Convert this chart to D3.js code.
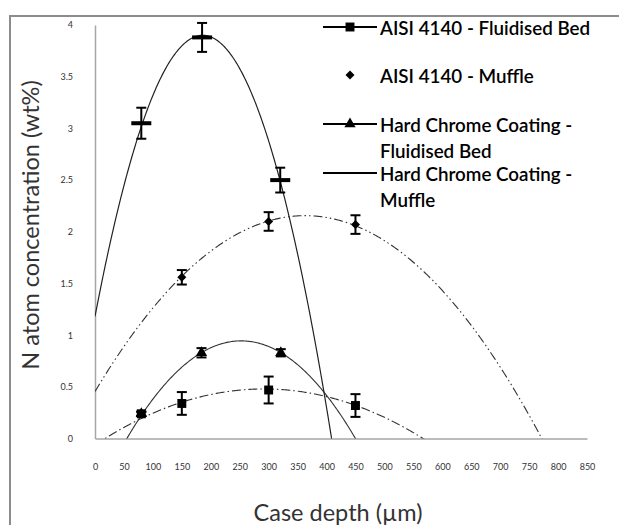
<!DOCTYPE html>
<html><head><meta charset="utf-8">
<script src="https://cdn.jsdelivr.net/npm/d3@7"></script>
<style>body{margin:0;background:#fff}svg{display:block}</style>
</head><body>
<svg id="c" width="619" height="525"></svg>
<script>
// ---- data ----
const xTicks = [0,50,100,150,200,250,300,350,400,450,500,550,600,650,700,750,800,850];
const yTicks = [0,0.5,1,1.5,2,2.5,3,3.5,4];
const seriesNames = ["AISI 4140 - Fluidised Bed","AISI 4140 - Muffle","Hard Chrome Coating - Fluidised Bed","Hard Chrome Coating - Muffle"];
// AISI 4140 - Fluidised Bed (squares)
const aisiFbX = [80,150,300,450];
const aisiFbY = [0.24,0.34,0.47,0.32];
const aisiFbErr = [0.02,0.11,0.13,0.11];
// AISI 4140 - Muffle (diamonds)
const aisiMuX = [150,300,450];
const aisiMuY = [1.56,2.10,2.07];
const aisiMuErr = [0.07,0.09,0.09];
// Hard Chrome Coating - Fluidised Bed (triangles)
const hcFbX = [80,184,321];
const hcFbY = [0.24,0.83,0.83];
const hcFbErr = [0.02,0.045,0.035];
// Hard Chrome Coating - Muffle (bars)
const hcMuX = [80,185,320];
const hcMuY = [3.05,3.88,2.50];
const hcMuErr = [0.15,0.14,0.12];
// polynomial trendline coefficients [c0, c1, c2] (order-2 fits)
const aisiFbTrend = [-0.0612, 0.003707, -6.347e-6];
const aisiMuTrend = [0.455, 0.009369, -1.29e-5];
const hcFbTrend = [-0.5996, 0.012235, -2.4227e-5];
const hcMuTrend = [1.181, 0.02924, -7.86e-5];

// ---- drawing ----
const svg = d3.select("#c");
const font = "Lato, 'Open Sans', sans-serif";
const x = d3.scaleLinear().domain([0,850]).range([95,587]);
const y = d3.scaleLinear().domain([0,4]).range([438.6,25]);

// outer border
svg.append("path").attr("d","M10,530 L10,16 L625,16").attr("fill","none").attr("stroke","#8c8c8c").attr("stroke-width",2);

svg.append("clipPath").attr("id","plot").append("rect")
  .attr("x",x(0)).attr("y",y(4)).attr("width",x(850)-x(0)).attr("height",y(0)-y(4));

// axes
const xa = svg.append("g").attr("transform",`translate(0,${y(0)})`)
  .call(d3.axisBottom(x).tickValues(xTicks).tickSize(0).tickPadding(25).tickFormat(d3.format("d")));
const ya = svg.append("g").attr("transform",`translate(${x(0)},0)`)
  .call(d3.axisLeft(y).tickValues(yTicks).tickSize(0).tickPadding(22).tickFormat(d=>String(d)));
[xa,ya].forEach(g=>{
  g.select(".domain").attr("stroke","#a6a6a6").attr("stroke-width",1.5);
  g.selectAll("text").attr("font-family",font).attr("font-size",9).attr("fill","#333");
});

// trendlines
const samp = d3.range(0, 851, 2);
const poly = c => v => c[0] + c[1]*v + c[2]*v*v;
const lineGen = f => d3.line().x(d=>x(d)).y(d=>y(f(d)))(samp);
const trends = [
  {c:aisiFbTrend, dash:"9,3,1.5,3", stroke:"#333", w:1.1},
  {c:aisiMuTrend, dash:"9,3,1.5,3,1.5,3", stroke:"#333", w:1.1},
  {c:hcFbTrend, dash:null, stroke:"#333", w:1.1},
  {c:hcMuTrend, dash:null, stroke:"#222", w:1.2}
];
const tg = svg.append("g").attr("clip-path","url(#plot)");
trends.forEach(t=>{
  tg.append("path").attr("d",lineGen(poly(t.c))).attr("fill","none")
    .attr("stroke",t.stroke).attr("stroke-width",t.w).attr("stroke-dasharray",t.dash);
});

// error bars
function errBars(xs, ys, es){
  const g = svg.append("g").attr("stroke","#000").attr("stroke-width",2).attr("fill","none");
  xs.forEach((xv,i)=>{
    if(!es[i]) return;
    const cx = x(xv), y1 = y(ys[i]+es[i]), y2 = y(ys[i]-es[i]);
    g.append("line").attr("x1",cx).attr("x2",cx).attr("y1",y1).attr("y2",y2);
    g.append("line").attr("x1",cx-5).attr("x2",cx+5).attr("y1",y1).attr("y2",y1);
    g.append("line").attr("x1",cx-5).attr("x2",cx+5).attr("y1",y2).attr("y2",y2);
  });
}
errBars(aisiFbX,aisiFbY,aisiFbErr);
errBars(aisiMuX,aisiMuY,aisiMuErr);
errBars(hcFbX,hcFbY,hcFbErr);
errBars(hcMuX,hcMuY,hcMuErr);

// markers
const sq = d3.symbol().type(d3.symbolSquare).size(80);
const dia = "M0,-4.5L4.5,0L0,4.5L-4.5,0Z";
const tri = d3.symbol().type(d3.symbolTriangle).size(55);
svg.append("g").selectAll("path").data(aisiFbX).join("path")
  .attr("d",sq).attr("transform",(d,i)=>`translate(${x(d)},${y(aisiFbY[i])})`).attr("fill","#000");
svg.append("g").selectAll("path").data(aisiMuX).join("path")
  .attr("d",dia).attr("transform",(d,i)=>`translate(${x(d)},${y(aisiMuY[i])})`).attr("fill","#000");
svg.append("g").selectAll("path").data(hcFbX).join("path")
  .attr("d",tri).attr("transform",(d,i)=>`translate(${x(d)},${y(hcFbY[i])})`).attr("fill","#000");
svg.append("g").selectAll("rect").data(hcMuX).join("rect")
  .attr("x",d=>x(d)-10).attr("y",(d,i)=>y(hcMuY[i])-2).attr("width",20).attr("height",4).attr("fill","#000");

// legend
const legend = [
  {lines:["AISI 4140 - Fluidised Bed"], y:27, line:true, sym:sq},
  {lines:["AISI 4140 - Muffle"], y:75, line:false, sym:dia},
  {lines:["Hard Chrome Coating -","Fluidised Bed"], y:124, line:true, sym:tri},
  {lines:["Hard Chrome Coating -","Muffle"], y:173, line:true, sym:null}
];
legend.forEach((L,i)=>{
  const g = svg.append("g");
  if(L.line) g.append("line").attr("x1",323).attr("x2",377).attr("y1",L.y).attr("y2",L.y).attr("stroke","#000").attr("stroke-width",2);
  if(L.sym) g.append("path").attr("d",L.sym).attr("transform",`translate(350,${L.y})`).attr("fill","#000");
  L.lines.forEach((t,j)=>{
    g.append("text").attr("x",380).attr("y",L.y + 1 + j*26).attr("dy","0.35em")
      .attr("font-family",font).attr("font-size",18.8).attr("font-weight",600).attr("fill","#000").text(t);
  });
});

// axis titles
svg.append("text").attr("transform",`translate(31,${225}) rotate(-90)`).attr("text-anchor","middle")
  .attr("dy","0.35em").attr("font-family",font).attr("font-size",23.5).attr("fill","#333")
  .text("N atom concentration (wt%)");
svg.append("text").attr("x",338).attr("y",513).attr("text-anchor","middle").attr("dy","0.35em")
  .attr("font-family",font).attr("font-size",23.5).attr("fill","#333").text("Case depth (µm)");
</script>
</body></html>
